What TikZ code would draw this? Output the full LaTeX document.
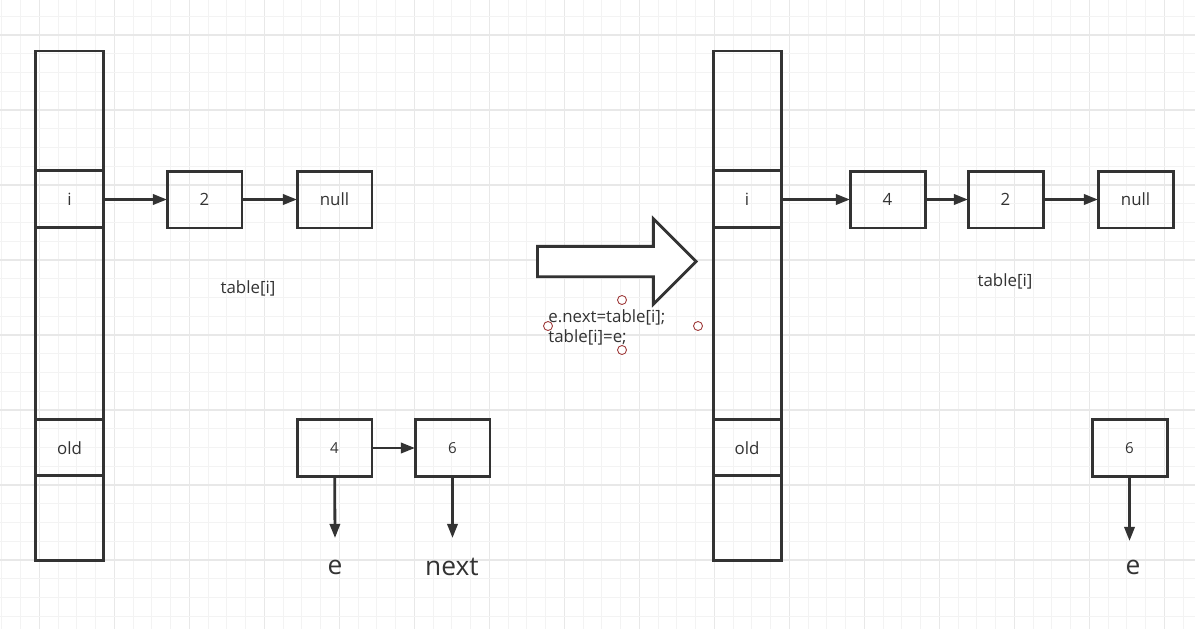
\documentclass[tikz,border=0pt]{standalone}
\usepackage{fontspec}
\setmainfont{Open Sans}
\usetikzlibrary{positioning,arrows.meta,shapes.arrows}

\definecolor{ink}{HTML}{333333}
\definecolor{gridminor}{HTML}{F3F3F3}
\definecolor{gridmajor}{HTML}{E8E8E8}
\definecolor{handle}{HTML}{9E3A3A}

\tikzset{
  cell/.style={draw=ink,line width=1.7pt,minimum width=1.36cm,inner sep=0pt,outer sep=0pt,text=ink,font=\fontsize{9.6}{12}\selectfont},
  item/.style={draw=ink,line width=1.7pt,minimum width=1.5cm,minimum height=1.14cm,inner sep=0pt,outer sep=0pt,text=ink,font=\fontsize{9.6}{12}\selectfont},
  link/.style={draw=ink,line width=1.6pt,-{Triangle[length=8pt,width=5.8pt]}},
  note/.style={text=ink,font=\fontsize{9.6}{11.3}\selectfont,inner sep=0pt},
  big/.style={text=ink,font=\fontsize{15}{18}\selectfont,inner sep=0pt}
}

\begin{document}
\begin{tikzpicture}[x=0.02cm,y=-0.02cm]
\useasboundingbox (0,0) rectangle (1195,629);
% background grid
\foreach \k in {-2,...,61}{
  \pgfmathsetmacro{\gx}{39.3+18.75*\k}
  \pgfmathtruncatemacro{\maj}{mod(\k+8,4)==0}
  \ifnum\maj=1 \draw[gridmajor,line width=0.6pt] (\gx,0) -- (\gx,629);
  \else \draw[gridminor,line width=0.6pt] (\gx,0) -- (\gx,629); \fi
}
\foreach \k in {-1,...,32}{
  \pgfmathsetmacro{\gy}{35+18.75*\k}
  \pgfmathtruncatemacro{\maj}{mod(\k+8,4)==0}
  \ifnum\maj=1 \draw[gridmajor,line width=0.6pt] (0,\gy) -- (1195,\gy);
  \else \draw[gridminor,line width=0.6pt] (0,\gy) -- (1195,\gy); \fi
}

% left table
\node[cell,minimum height=2.4cm,anchor=north] (la) at (69.5,51) {};
\node[cell,minimum height=1.14cm,below=0pt of la] (li) {i};
\node[cell,minimum height=3.84cm,below=0pt of li] (lm) {};
\node[cell,minimum height=1.12cm,below=0pt of lm] (lo) {old};
\node[cell,minimum height=1.7cm,below=0pt of lo] (lb) {};

\node[item] (l2) at (204.5,199.5) {2};
\node[item] (lnull) at (334.5,199.5) {null};
\draw[link] (li) -- (l2);
\draw[link] (l2) -- (lnull);
\node[note] (ltab) at (248,288) {table[i]};

\node[item,font=\fontsize{8.6}{10}\selectfont] (l4) at (334.5,448) {4};
\node[item,font=\fontsize{8.6}{10}\selectfont] (l6) at (452.5,448) {6};
\draw[link] (l4) -- (l6);
\node[big] (le) at (335,567) {e};
\node[big] (lnext) at (452,567) {next};
\draw[link] (l4) -- (335,538);
\draw[link] (l6) -- (452.5,538);

% big arrow
\node[single arrow,draw=ink,line width=1.6pt,fill=white,minimum height=3.17cm,
  single arrow head extend=0.55cm,single arrow tip angle=90,inner sep=0pt,anchor=tip] (step1) at (698,261.5) {\rule{0pt}{0.55cm}};
\node[note,align=left,anchor=north west] (code) at (548,309) {e.next=table[i];\\table[i]=e;};
\foreach \p in {(622,300),(548,326),(698,326),(622,350)}
  \draw[handle,line width=0.5pt,fill=white] \p circle (4.5);

% right table
\node[cell,minimum height=2.4cm,anchor=north] (ra) at (747,51) {};
\node[cell,minimum height=1.14cm,below=0pt of ra] (ri) {i};
\node[cell,minimum height=3.84cm,below=0pt of ri] (rm) {};
\node[cell,minimum height=1.12cm,below=0pt of rm] (ro) {old};
\node[cell,minimum height=1.7cm,below=0pt of ro] (rb) {};

\node[item] (r4) at (887.5,199.5) {4};
\node[item] (r2) at (1005.5,199.5) {2};
\node[item] (rnull) at (1135.5,199.5) {null};
\draw[link] (ri) -- (r4);
\draw[link] (r4) -- (r2);
\draw[link] (r2) -- (rnull);
\node[note] (rtab) at (1005,281) {table[i]};

\node[item,font=\fontsize{8.6}{10}\selectfont] (r6) at (1129.5,448) {6};
\node[big] (re) at (1133,567) {e};
\draw[link] (r6) -- (1129.5,541);
\end{tikzpicture}
\end{document}
